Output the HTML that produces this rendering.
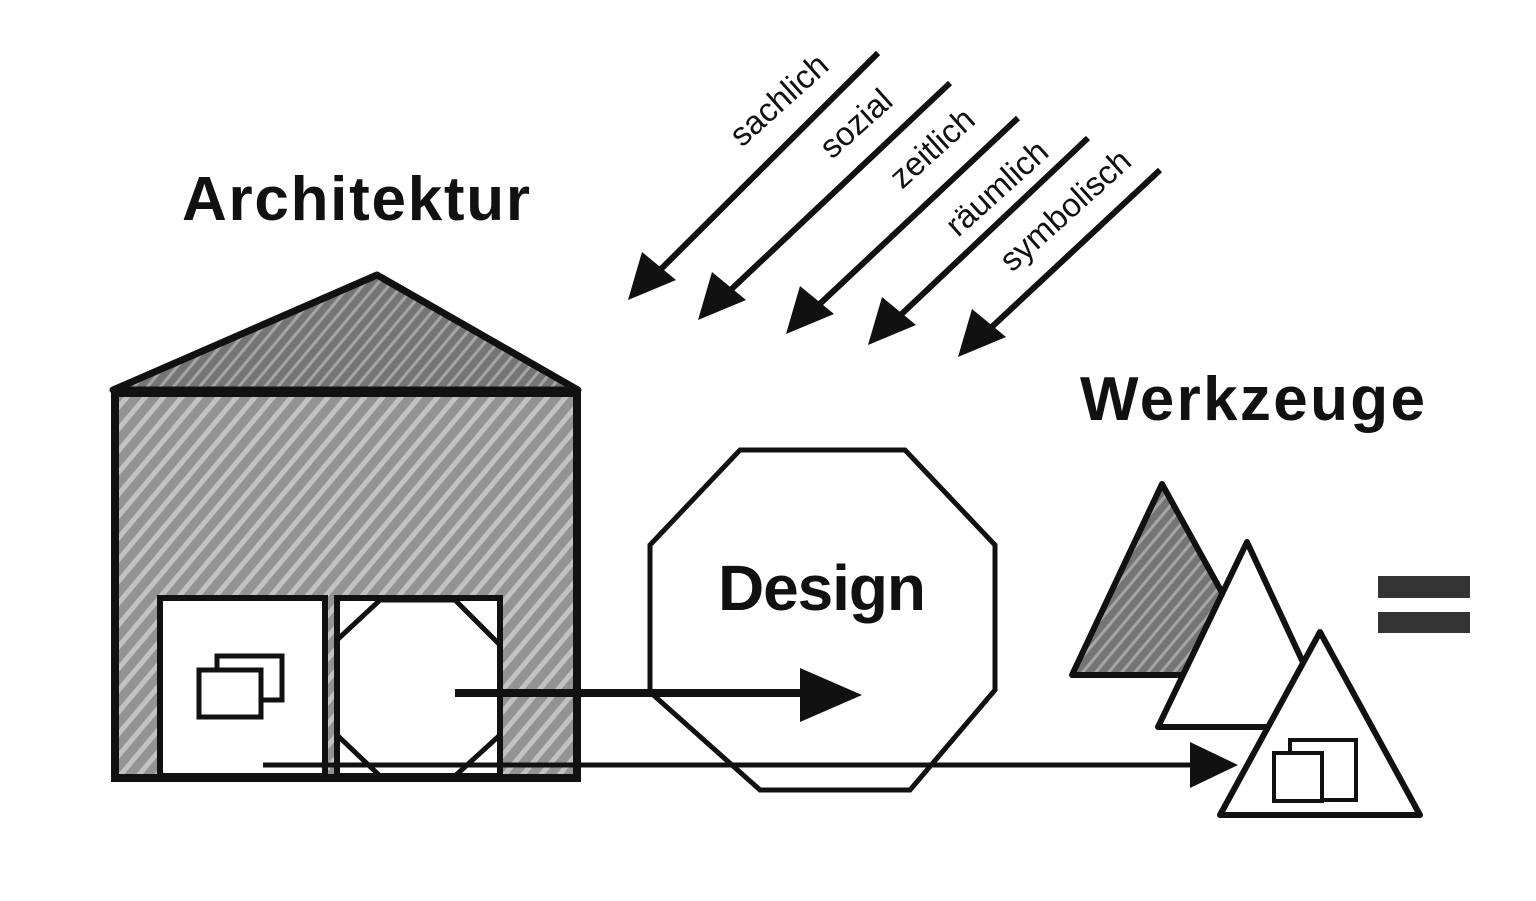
<!DOCTYPE html>
<html><head><meta charset="utf-8"><style>
html,body{margin:0;padding:0;background:#fff;}
svg{display:block;}
text{font-family:"Liberation Sans",sans-serif;fill:#111;}
</style></head><body>
<svg width="1536" height="901" viewBox="0 0 1536 901" xmlns="http://www.w3.org/2000/svg">
<defs>
<pattern id="h" width="14" height="14" patternUnits="userSpaceOnUse" patternTransform="rotate(-50)">
<rect width="14" height="14" fill="#939393"/>
<rect width="14" height="5" fill="#c2c2c2"/>
</pattern>
<pattern id="h2" width="10" height="10" patternUnits="userSpaceOnUse" patternTransform="rotate(-50)">
<rect width="10" height="10" fill="#757575"/>
<rect width="10" height="3" fill="#a5a5a5"/>
</pattern>
</defs>
<rect width="1536" height="901" fill="#fff"/>

<text x="182" y="220" font-size="62" font-weight="bold" textLength="348" lengthAdjust="spacing">Architektur</text>
<text x="1080" y="420" font-size="62" font-weight="bold" textLength="345" lengthAdjust="spacing">Werkzeuge</text>

<!-- house -->
<polygon points="113,390 377,275 578,390" fill="url(#h2)" stroke="#111" stroke-width="7" stroke-linejoin="round"/>
<rect x="115" y="392" width="462" height="386" fill="url(#h)" stroke="#111" stroke-width="8"/>
<line x1="113" y1="392" x2="578" y2="392" stroke="#111" stroke-width="10"/>
<rect x="160" y="598" width="165" height="178" fill="#fff" stroke="#111" stroke-width="6"/>
<rect x="337" y="598" width="163" height="178" fill="#fff" stroke="#111" stroke-width="6"/>
<polyline points="337,640 380,600 455,600 500,645 500,735 455,776 380,776 337,735" fill="none" stroke="#111" stroke-width="5"/>
<g fill="none" stroke="#111" stroke-width="5">
<rect x="199" y="670" width="62" height="47"/>
<polyline points="217,668 217,656 282,656 282,700 262,700"/>
</g>

<!-- octagon -->
<polygon points="740,450 905,450 995,545 995,690 910,790 760,790 650,692 650,545" fill="#fff" stroke="#111" stroke-width="5"/>
<text x="718" y="610" font-size="64" font-weight="bold" textLength="208" lengthAdjust="spacing">Design</text>

<!-- arrows horizontal -->
<line x1="455" y1="693" x2="810" y2="693" stroke="#111" stroke-width="8"/>
<polygon points="800,668 862,695 800,722" fill="#111"/>
<line x1="263" y1="765" x2="1200" y2="765" stroke="#111" stroke-width="5"/>
<polygon points="1190,742 1238,765 1190,788" fill="#111"/>

<!-- diagonal arrows -->
<g stroke="#111" stroke-width="6" fill="#111">
<line x1="878" y1="53" x2="650" y2="280"/>
<polygon points="628,300 642,252 676,280" stroke="none"/>
<line x1="950" y1="83" x2="720" y2="300"/>
<polygon points="698,320 712,272 746,300" stroke="none"/>
<line x1="1018" y1="118" x2="808" y2="315"/>
<polygon points="786,334 800,286 834,314" stroke="none"/>
<line x1="1088" y1="138" x2="890" y2="325"/>
<polygon points="868,345 882,297 916,325" stroke="none"/>
<line x1="1160" y1="170" x2="980" y2="338"/>
<polygon points="958,357 972,309 1006,337" stroke="none"/>
</g>
<g font-size="33">
<text transform="translate(742,148) rotate(-42)">sachlich</text>
<text transform="translate(832,160) rotate(-42)">sozial</text>
<text transform="translate(902,190) rotate(-42)">zeitlich</text>
<text transform="translate(958,238) rotate(-42)">räumlich</text>
<text transform="translate(1012,273) rotate(-42)">symbolisch</text>
</g>

<!-- triangles -->
<polygon points="1072,675 1162,484 1225,598 1200,675" fill="url(#h2)" stroke="#111" stroke-width="6" stroke-linejoin="round"/>
<polygon points="1158,727 1247,542 1333,727" fill="#fff" stroke="#111" stroke-width="6" stroke-linejoin="round"/>
<polygon points="1220,815 1320,632 1420,815" fill="#fff" stroke="#111" stroke-width="6" stroke-linejoin="round"/>
<g fill="none" stroke="#111" stroke-width="4">
<rect x="1274" y="753" width="48" height="48"/>
<polyline points="1290,751 1290,740 1356,740 1356,800 1322,800"/>
</g>

<!-- equals -->
<rect x="1378" y="576" width="92" height="22" fill="#333"/>
<rect x="1378" y="612" width="92" height="21" fill="#333"/>
</svg>
</body></html>
